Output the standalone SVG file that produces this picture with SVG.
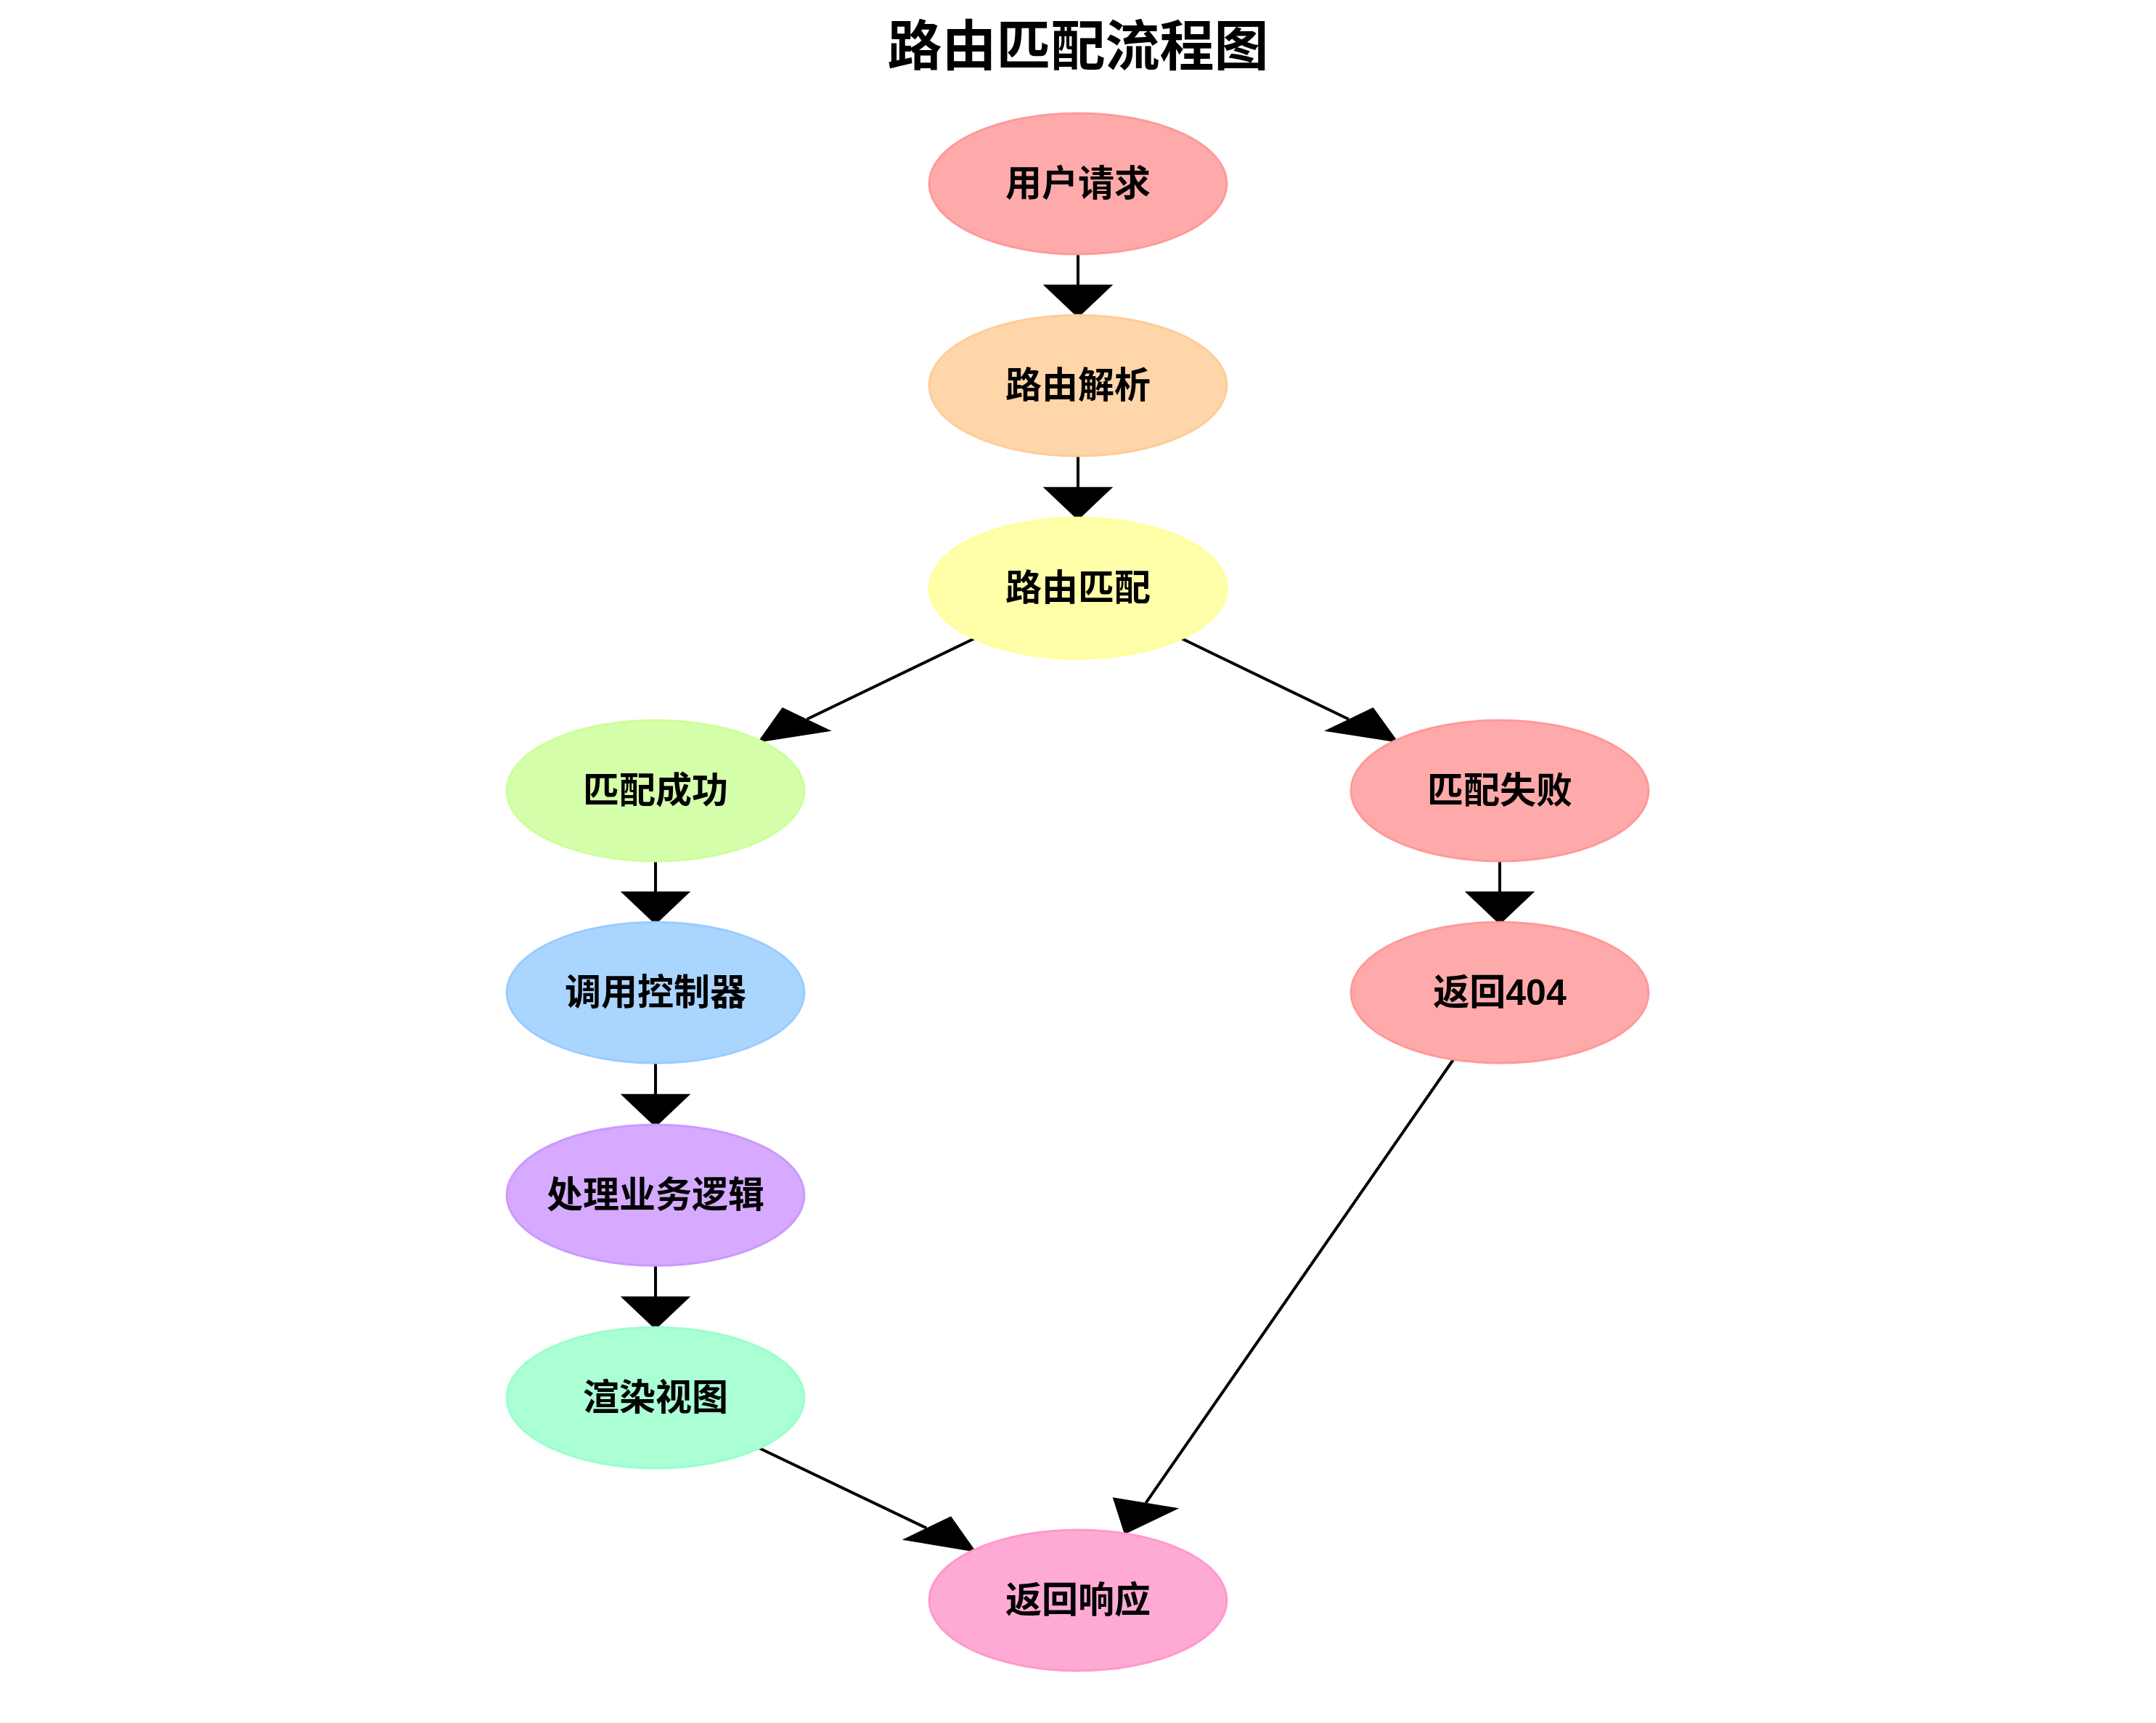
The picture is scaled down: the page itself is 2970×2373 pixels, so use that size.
<svg xmlns="http://www.w3.org/2000/svg" width="2970" height="2373" viewBox="0 0 2970 2373">
  <style>
    .node ellipse { stroke-width: 3; }
    .node text { font-family: "Liberation Sans", "Noto Sans CJK SC", sans-serif; font-weight: bold; font-size: 50px; fill: #000; text-anchor: middle; }
    .title { font-family: "Liberation Sans", "Noto Sans CJK SC", sans-serif; font-weight: bold; font-size: 75px; fill: #000; text-anchor: middle; }
    .edge { stroke: #000; stroke-width: 4; fill: none; }
    .head { fill: #000; stroke: none; }
  </style>
  <defs>
    <!-- downward arrowhead, tip at origin -->
    <polygon id="down-head" class="head" points="-48.3,-45.7 48.3,-45.7 0,0"/>
  </defs>
  <rect width="2970" height="2373" fill="#fff"/>

  <text class="title" x="1485" y="90">路由匹配流程图</text>

  <!-- connectors: each line stops at its arrowhead base -->
  <g id="edges">
    <!-- vertical links -->
    <line class="edge" x1="1485" y1="351" x2="1485" y2="393"/>
    <use href="#down-head" x="1485" y="437.7"/>
    <line class="edge" x1="1485" y1="629" x2="1485" y2="671.5"/>
    <use href="#down-head" x="1485" y="716.4"/>
    <line class="edge" x1="903" y1="1187" x2="903" y2="1229"/>
    <use href="#down-head" x="903" y="1273.5"/>
    <line class="edge" x1="2066" y1="1187" x2="2066" y2="1229"/>
    <use href="#down-head" x="2066" y="1273.5"/>
    <line class="edge" x1="903" y1="1465" x2="903" y2="1507.5"/>
    <use href="#down-head" x="903" y="1552.5"/>
    <line class="edge" x1="903" y1="1744" x2="903" y2="1786.5"/>
    <use href="#down-head" x="903" y="1831.2"/>

    <!-- diagonal links -->
    <line class="edge" x1="1343" y1="879" x2="1111.7" y2="990.5"/>
    <polygon class="head" points="1077.7,974.3 1145.7,1006.7 1043.3,1022.7"/>
    <line class="edge" x1="1627" y1="879" x2="1857.8" y2="990.5"/>
    <polygon class="head" points="1891.7,974.3 1824,1006.7 1926.7,1022.7"/>
    <line class="edge" x1="1045" y1="1994" x2="1276.3" y2="2104.5"/>
    <polygon class="head" points="1310,2088.3 1242.7,2120.7 1345,2137.7"/>
    <line class="edge" x1="2003" y1="1458" x2="1578.5" y2="2069.8"/>
    <polygon class="head" points="1532.7,2062.3 1624.3,2077.3 1549,2113.3"/>
  </g>

  <g id="n-request" class="node">
    <ellipse cx="1485" cy="253" rx="205" ry="97" fill="#FFAAAA" stroke="#FF9999"/>
    <text x="1485" y="270">用户请求</text>
  </g>
  <g id="n-parse" class="node">
    <ellipse cx="1485" cy="531" rx="205" ry="97" fill="#FFD5AA" stroke="#FFCC99"/>
    <text x="1485" y="548">路由解析</text>
  </g>
  <g id="n-match" class="node">
    <ellipse cx="1485" cy="810" rx="205" ry="97" fill="#FFFFAA" stroke="#FFFF99"/>
    <text x="1485" y="827">路由匹配</text>
  </g>
  <g id="n-ok" class="node">
    <ellipse cx="903" cy="1089" rx="205" ry="97" fill="#D5FFAA" stroke="#CCFF99"/>
    <text x="903" y="1106">匹配成功</text>
  </g>
  <g id="n-fail" class="node">
    <ellipse cx="2066" cy="1089" rx="205" ry="97" fill="#FFAAAA" stroke="#FF9999"/>
    <text x="2066" y="1106">匹配失败</text>
  </g>
  <g id="n-controller" class="node">
    <ellipse cx="903" cy="1367" rx="205" ry="97" fill="#AAD5FF" stroke="#99CCFF"/>
    <text x="903" y="1384">调用控制器</text>
  </g>
  <g id="n-404" class="node">
    <ellipse cx="2066" cy="1367" rx="205" ry="97" fill="#FFAAAA" stroke="#FF9999"/>
    <text x="2066" y="1384">返回404</text>
  </g>
  <g id="n-logic" class="node">
    <ellipse cx="903" cy="1646" rx="205" ry="97" fill="#D5AAFF" stroke="#CC99FF"/>
    <text x="903" y="1663">处理业务逻辑</text>
  </g>
  <g id="n-render" class="node">
    <ellipse cx="903" cy="1925" rx="205" ry="97" fill="#AAFFD5" stroke="#99FFCC"/>
    <text x="903" y="1942">渲染视图</text>
  </g>
  <g id="n-response" class="node">
    <ellipse cx="1485" cy="2204" rx="205" ry="97" fill="#FFAAD5" stroke="#FF99CC"/>
    <text x="1485" y="2221">返回响应</text>
  </g>
</svg>
